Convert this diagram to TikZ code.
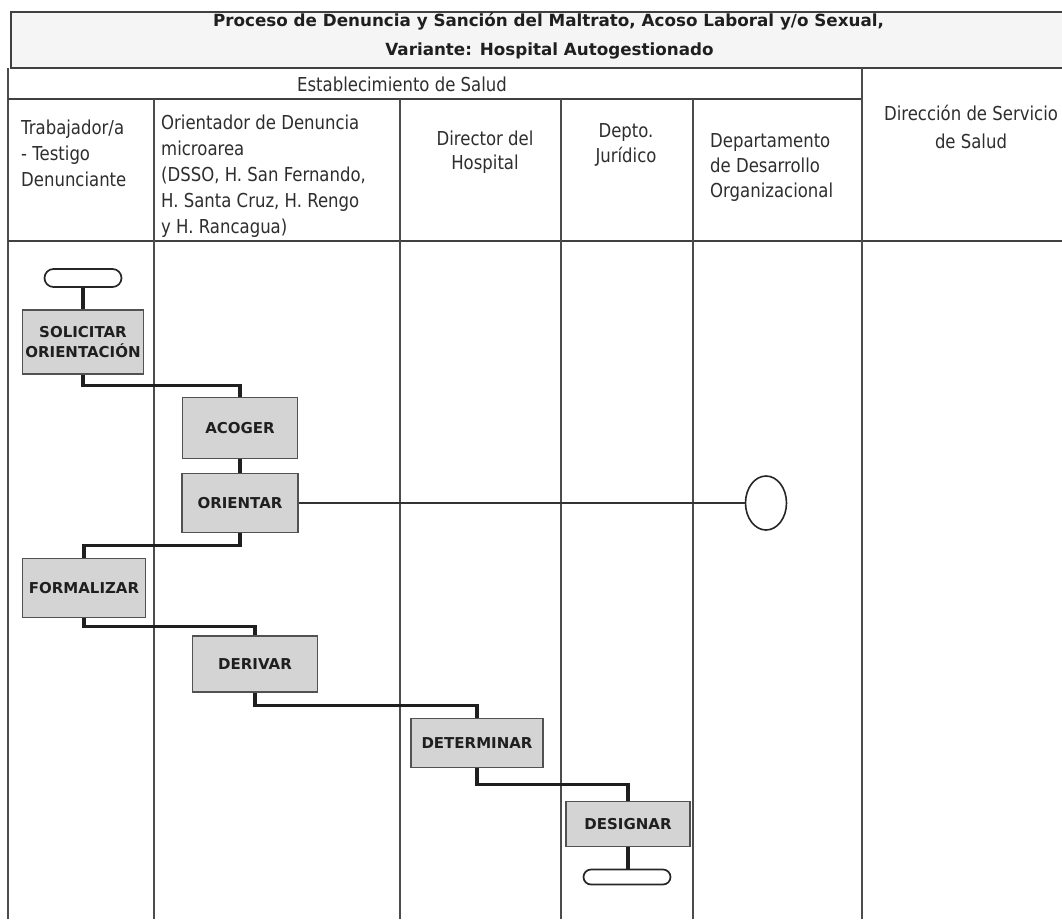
\documentclass[tikz,border=0pt]{standalone}
\usepackage{fontspec}
\setmainfont{DejaVu Sans}
\newfontfamily\headfont[FakeStretch=0.86]{DejaVu Sans}
\usetikzlibrary{calc,shapes.geometric}

\begin{document}
\begin{tikzpicture}[x=1pt,y=-1pt,
  hline/.style={draw=black!75,line width=1.6pt},
  vline/.style={draw=black!70,line width=1.2pt},
  hdr/.style={inner sep=0pt,font=\headfont\fontsize{19.2}{24}\selectfont,text=black!82},
  act/.style={draw=black!68,line width=1.8pt,fill=black!17,inner sep=0pt,
    font=\fontsize{15}{20}\selectfont\bfseries,text=black!88,align=center},
  term/.style={draw=black!85,line width=1.7pt,fill=white,inner sep=0pt},
  flow/.style={draw=black!88,line width=3.2pt},
  link/.style={draw=black!80,line width=1.4pt}]
\clip (0,0) rectangle (1062,919);
\fill[white] (0,0) rectangle (1062,919);

% title band
\draw[draw=black!75,line width=1.8pt,fill=black!4] (11,12) rectangle (1080,68);
\node[inner sep=0pt,anchor=base,font=\fontsize{16.75}{20}\selectfont\bfseries,text=black!88] (title1) at (548.5,26)
  {Proceso de Denuncia y Sanción del Maltrato, Acoso Laboral y/o Sexual,};
\node[inner sep=0pt,anchor=base,font=\fontsize{16.75}{20}\selectfont\bfseries,text=black!88] (title2) at (549.5,55)
  {Variante: Hospital Autogestionado};

% table grid
\draw[vline] (8,68) -- (8,919);
\draw[hline] (8,99) -- (862,99);
\draw[hline] (8,241) -- (1062,241);
\draw[vline] (862,68) -- (862,919);
\foreach \cx in {154,400,561,693} \draw[vline] (\cx,99) -- (\cx,919);

% header texts, one node per printed line
\node[hdr,anchor=base] (est) at (402,91) {Establecimiento de Salud};
\foreach \t [count=\i] in {Trabajador/a,- Testigo,Denunciante}
  \node[hdr,anchor=base west] (lane1-\i) at (21,{134+26*(\i-1)}) {\t};
\foreach \t [count=\i] in {Orientador de Denuncia,microarea,{(DSSO, H. San Fernando,},{H. Santa Cruz, H. Rengo},y H. Rancagua)}
  \node[hdr,anchor=base west] (lane2-\i) at (161,{129+26*(\i-1)}) {\t};
\foreach \t [count=\i] in {Director del,Hospital}
  \node[hdr,anchor=base] (lane3-\i) at (485,{145+24*(\i-1)}) {\t};
\foreach \t [count=\i] in {Depto.,Jurídico}
  \node[hdr,anchor=base] (lane4-\i) at (626,{137+25*(\i-1)}) {\t};
\foreach \t [count=\i] in {Departamento,de Desarrollo,Organizacional}
  \node[hdr,anchor=base west] (lane5-\i) at (710,{147+25*(\i-1)}) {\t};
\foreach \t [count=\i] in {Dirección de Servicio,de Salud}
  \node[hdr,anchor=base] (lane6-\i) at (971,{120+28*(\i-1)}) {\t};

% flow shapes
\node[term,minimum width=77,minimum height=18,rounded corners=9pt] (t0) at (83,278) {};
\node[act,minimum width=121,minimum height=64] (sol) at (83,342) {SOLICITAR\\ORIENTACIÓN};
\node[act,minimum width=115,minimum height=61] (aco) at (240,428) {ACOGER};
\node[act,minimum width=116,minimum height=59] (ori) at (240,503) {ORIENTAR};
\node[act,minimum width=123,minimum height=59] (frm) at (84,588) {FORMALIZAR};
\node[act,minimum width=125,minimum height=56] (der) at (255,664) {DERIVAR};
\node[act,minimum width=132,minimum height=49] (det) at (477,743) {DETERMINAR};
\node[act,minimum width=124,minimum height=45] (des) at (628,824) {DESIGNAR};
\node[term,minimum width=87,minimum height=15,rounded corners=7.5pt] (t1) at (627,877) {};
\node[term,ellipse,minimum width=41,minimum height=54,line width=1.6pt] (conn) at (766,503) {};

% connectors
\draw[flow] (t0) -- (sol);
\draw[flow] (sol.south) |- ($(sol.south)!.5!(aco.north)$) -| (aco.north);
\draw[flow] (aco) -- (ori);
\draw[flow] (ori.south) |- ($(ori.south)!.5!(frm.north)$) -| (frm.north);
\draw[flow] (frm.south) |- ($(frm.south)!.5!(der.north)$) -| (der.north);
\draw[flow] (der.south) |- ($(der.south)!.5!(det.north)$) -| (det.north);
\draw[flow] (det.south) |- ($(det.south)!.5!(des.north)$) -| (des.north);
\draw[flow] (des.south) -- (des.south |- t1.north);
\draw[link] (ori.east) -- (conn.west);
\end{tikzpicture}
\end{document}
